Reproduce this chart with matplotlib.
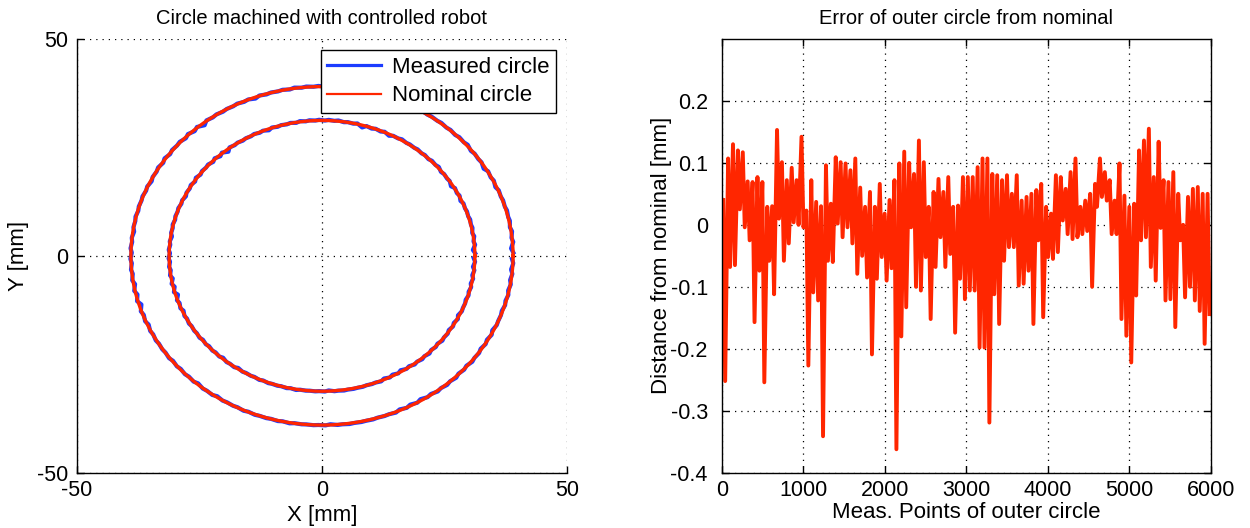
import numpy as np
import matplotlib
matplotlib.use('Agg')
import matplotlib.pyplot as plt

plt.rcParams['font.family'] = ['Liberation Sans', 'DejaVu Sans']
plt.rcParams['font.size'] = 16
plt.rcParams['axes.unicode_minus'] = False

# nominal radii of the two machined circles [mm]
r_outer = 39.0
r_inner = 31.2

# error of the outer circle, read as high / low per 60 points (0..6000)
err_hi = [0.040, 0.107, 0.130, 0.120, 0.117, 0.070, 0.069, 0.077, 0.069, 0.029,
          0.030, 0.153, 0.101, 0.072, 0.092, 0.072, 0.142, 0.023, 0.072, 0.037,
          0.030, 0.096, 0.034, 0.109, 0.101, 0.099, 0.088, 0.107, 0.060, 0.029,
          0.053, 0.029, 0.066, 0.018, 0.040, 0.072, 0.099, 0.118, 0.100, 0.082,
          0.136, 0.101, 0.029, 0.053, 0.074, 0.053, 0.077, 0.029, 0.031, 0.077,
          0.077, 0.077, 0.093, 0.107, 0.107, 0.082, 0.080, 0.072, 0.080, 0.050,
          0.080, 0.039, 0.045, 0.050, 0.056, 0.066, 0.029, 0.018, 0.080, 0.077,
          0.058, 0.085, 0.107, 0.029, 0.039, 0.050, 0.066, 0.107, 0.085, 0.072,
          0.039, 0.099, 0.047, 0.029, 0.034, 0.120, 0.136, 0.155, 0.077, 0.134,
          0.072, 0.069, 0.085, 0.050, 0.000, 0.045, 0.058, 0.061, 0.050, 0.050]
err_lo = [-0.252, -0.068, -0.065, 0.025, -0.004, -0.025, -0.157, -0.074, -0.254, -0.058,
          -0.112, 0.010, -0.058, -0.030, 0.004, 0.000, -0.004, -0.227, -0.109, -0.122,
          -0.341, -0.058, -0.060, 0.002, -0.020, -0.004, -0.030, -0.079, -0.050, -0.085,
          -0.209, -0.087, -0.052, -0.090, -0.070, -0.362, -0.180, -0.133, -0.004, -0.100,
          -0.106, -0.052, -0.152, -0.068, -0.020, -0.068, -0.047, -0.174, -0.087, -0.120,
          -0.106, -0.106, -0.198, -0.198, -0.319, -0.112, -0.160, -0.058, -0.036, -0.036,
          -0.098, -0.095, -0.074, -0.160, -0.025, -0.149, -0.052, -0.055, -0.044, 0.007,
          -0.015, -0.023, -0.020, -0.015, -0.010, -0.100, 0.029, 0.045, 0.039, -0.015,
          -0.015, -0.152, -0.179, -0.222, -0.114, -0.025, -0.020, -0.068, -0.090, -0.005,
          -0.122, -0.120, -0.165, -0.025, -0.117, -0.100, -0.122, -0.139, -0.192, -0.144]
seg = 60
n_points = 6000

# build the measured series from the pairs
pts = []
err = []
for k in range(len(err_hi)):
    pts += [k * seg + 18, k * seg + 42]
    err += [err_hi[k], err_lo[k]]
pts = np.array(pts)
err = np.array(err)

red = '#FF2600'
blue = '#1C3CFF'

fig = plt.figure(figsize=(12.5, 5.28), dpi=100)
ax1 = fig.add_axes([0.0616, 0.1045, 0.392, 0.822])
ax2 = fig.add_axes([0.5774, 0.1045, 0.3914, 0.822])

# left: circles
th = 2 * np.pi * pts / n_points
th_nom = np.linspace(0, 2 * np.pi, 721)
for r in [r_outer, r_inner]:
    ax1.plot((r + 1.5 * err) * np.cos(th), (r + 1.5 * err) * np.sin(th), color=blue, lw=3.0)
for r in [r_outer, r_inner]:
    ax1.plot(r * np.cos(th_nom), r * np.sin(th_nom), color=red, lw=2.4)
h1, = ax1.plot([], [], color=blue, lw=2.3)
h2, = ax1.plot([], [], color=red, lw=1.6)
leg = ax1.legend([h1, h2], ['Measured circle', 'Nominal circle'], loc='upper right',
                 fancybox=False, framealpha=1, edgecolor='black', fontsize=16,
                 borderaxespad=0.5, handlelength=2.4, handletextpad=0.5,
                 borderpad=0.3, labelspacing=0.35)
leg.get_frame().set_linewidth(1.0)
ax1.set_xlim(-50, 50)
ax1.set_ylim(-50, 50)
ax1.set_xticks([-50, 0, 50])
ax1.set_yticks([-50, 0, 50])
ax1.spines['top'].set_visible(False)
ax1.spines['right'].set_visible(False)
ax1.set_xlabel('X [mm]', labelpad=3)
ax1.set_ylabel('Y [mm]', labelpad=6)
ax1.set_title('Circle machined with controlled robot', fontsize=14.5, pad=11)

# right: error curve
ax2.plot(pts, err, color=red, lw=2.8)
ax2.set_xlim(0, 6000)
ax2.set_ylim(-0.4, 0.3)
ax2.set_xticks(range(0, 6001, 1000))
ax2.set_yticks([-0.4, -0.3, -0.2, -0.1, 0, 0.1, 0.2])
ax2.set_yticklabels(['-0.4', '-0.3', '-0.2', '-0.1', '0', '0.1', '0.2'])
ax2.set_xlabel('Meas. Points of outer circle', labelpad=1)
ax2.set_ylabel('Distance from nominal [mm]', labelpad=-1)
ax2.set_title('Error of outer circle from nominal', fontsize=14.5, pad=11)
ax2.tick_params(top=True, right=True)

for ax in [ax1, ax2]:
    ax.grid(True, color='black', linestyle=(0, (1, 4)), linewidth=0.9)
    ax.tick_params(direction='in', length=5, width=1, labelsize=15.5)
    ax.tick_params(axis='x', pad=5)
    for s in ax.spines.values():
        s.set_linewidth(1.0)
ax1.tick_params(axis='y', pad=6)
ax2.tick_params(axis='y', pad=10)

fig.savefig('out.png', dpi=100)
